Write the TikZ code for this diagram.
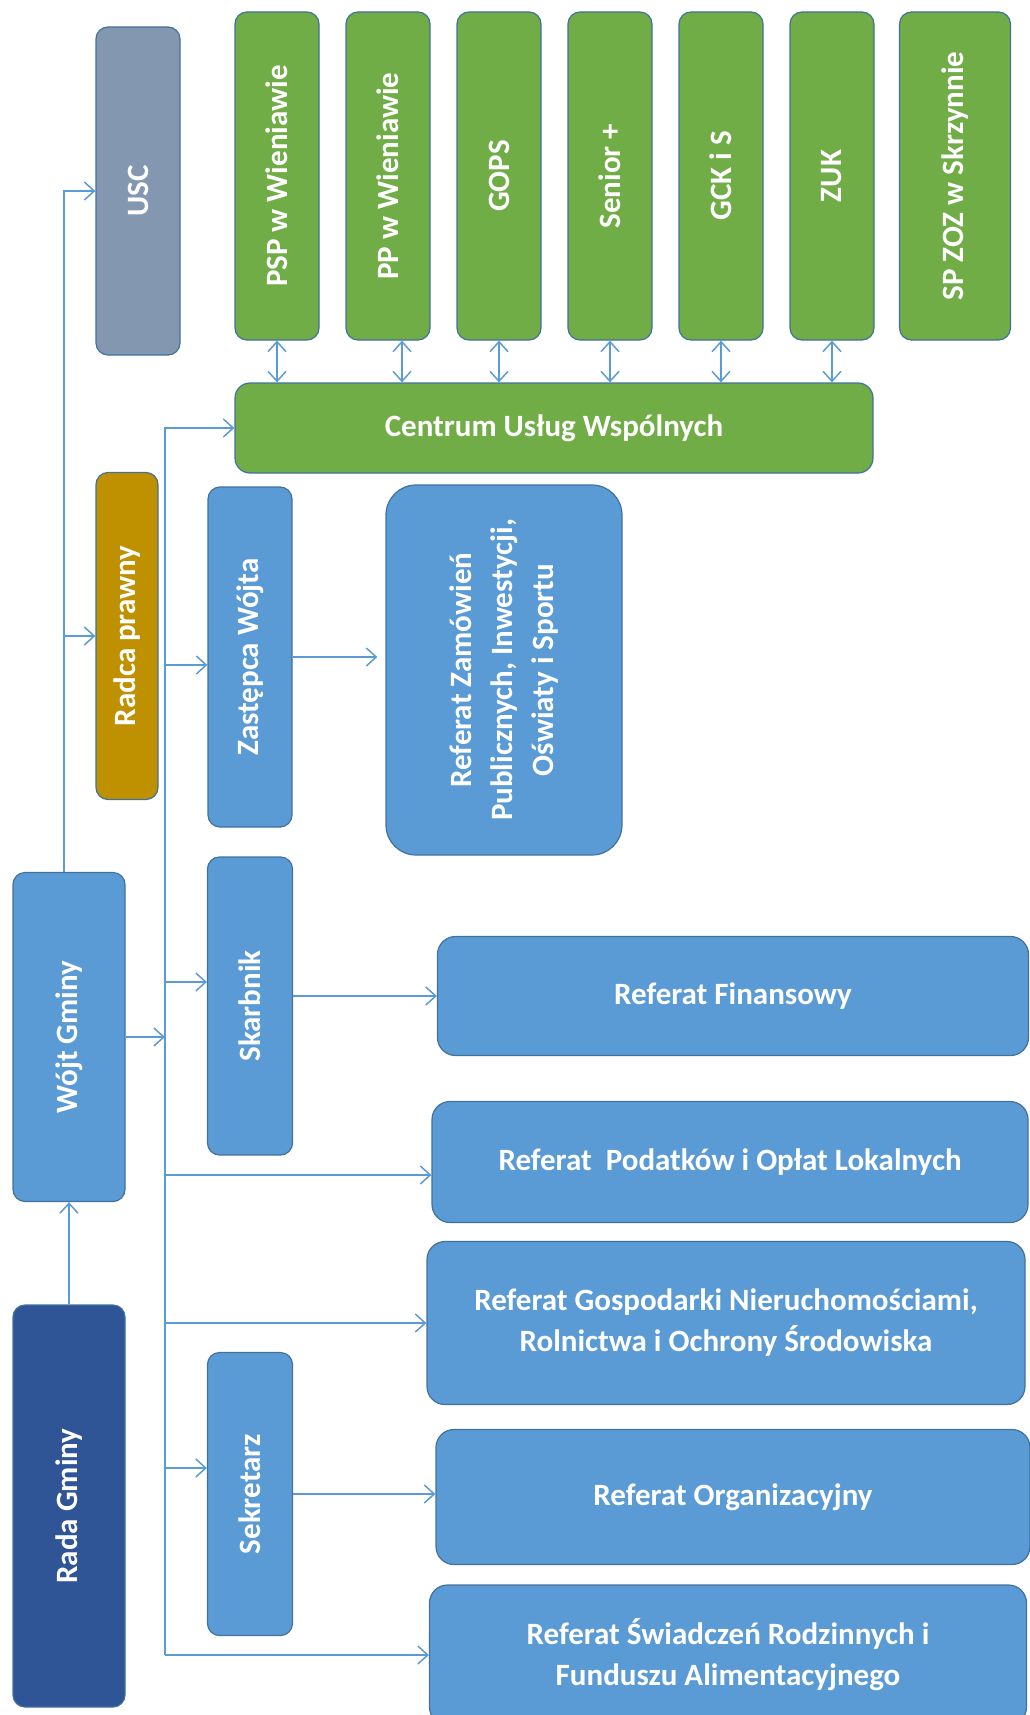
\documentclass[tikz,border=0pt]{standalone}
\usepackage{fontspec}
\usepackage{graphicx}
\usepackage{tikz}
\usetikzlibrary{arrows.meta}
\setmainfont{Carlito}
\definecolor{ogreen}{HTML}{70AD47}
\definecolor{oblue}{HTML}{5B9BD5}
\definecolor{ogrey}{HTML}{8497B0}
\definecolor{ogold}{HTML}{BF9000}
\definecolor{onavy}{HTML}{2F5597}
\definecolor{edge}{HTML}{41719C}
\tikzset{
  orgbox/.style={draw=edge, line width=1.2pt, rounded corners=12pt, inner sep=0pt,
    text=white, font=\bfseries\fontsize{31}{41}\selectfont},
  greenbox/.style={orgbox, fill=ogreen},
  bluebox/.style={orgbox, fill=oblue},
  conn/.style={draw=oblue, line width=1.5pt, -{Straight Barb[length=10pt,width=18pt]}},
  both/.style={conn, {Straight Barb[length=10pt,width=18pt]}-{Straight Barb[length=10pt,width=18pt]}}
}

\begin{document}
\begin{tikzpicture}[x=1pt,y=-1pt]
      \useasboundingbox (0,0) rectangle (1030,1715);
      \clip (0,0) rectangle (1030,1715);
      \node[orgbox, fill=ogrey, minimum width=84, minimum height=328] (usc) at (138,191) {\rotatebox{90}{USC}};
      \node[greenbox, minimum width=84, minimum height=328] (psp) at (277,176) {\rotatebox{90}{PSP w Wieniawie}};
      \node[greenbox, minimum width=84, minimum height=328] (pp) at (388,176) {\rotatebox{90}{PP w Wieniawie}};
      \node[greenbox, minimum width=84, minimum height=328] (gops) at (499,176) {\rotatebox{90}{GOPS}};
      \node[greenbox, minimum width=84, minimum height=328] (senior) at (610,176) {\rotatebox{90}{Senior +}};
      \node[greenbox, minimum width=84, minimum height=328] (gck) at (721,176) {\rotatebox{90}{GCK i S}};
      \node[greenbox, minimum width=84, minimum height=328] (zuk) at (832,176) {\rotatebox{90}{ZUK}};
      \node[greenbox, minimum width=111, minimum height=328] (spzoz) at (955,176) {\rotatebox{90}{SP ZOZ w Skrzynnie}};
      \node[greenbox, rounded corners=15pt, minimum width=638, minimum height=90] (cuw) at (554,428) {Centrum Usług Wspólnych};
      \node[orgbox, fill=ogold, minimum width=62, minimum height=327] (radca) at (127,636) {\rotatebox{90}{Radca prawny}};
      \node[bluebox, minimum width=84, minimum height=340] (zast) at (250,657) {\rotatebox{90}{Zastępca Wójta}};
      \node[bluebox, rounded corners=30pt, minimum width=236, minimum height=370] (zam) at (504,670)
        {\rotatebox{90}{\begin{tabular}{@{}c@{}}Referat Zamówień\\ Publicznych, Inwestycji,\\ Oświaty i Sportu\end{tabular}}};
      \node[bluebox, minimum width=112, minimum height=329] (wojt) at (69,1037) {\rotatebox{90}{Wójt Gminy}};
      \node[bluebox, minimum width=85, minimum height=298] (skarb) at (250,1006) {\rotatebox{90}{Skarbnik}};
      \node[bluebox, rounded corners=18pt, minimum width=591, minimum height=119] (fin) at (733,996) {Referat Finansowy};
      \node[bluebox, rounded corners=18pt, minimum width=596, minimum height=121] (pod) at (730,1162) {Referat\ \ Podatków i Opłat Lokalnych};
      \node[bluebox, rounded corners=18pt, align=center, minimum width=598, minimum height=163] (gosp) at (726,1323)
        {Referat Gospodarki Nieruchomościami,\\ Rolnictwa i Ochrony Środowiska};
      \node[orgbox, fill=onavy, minimum width=112, minimum height=402] (rada) at (69,1506) {\rotatebox{90}{Rada Gminy}};
      \node[bluebox, minimum width=85, minimum height=283] (sek) at (250,1494) {\rotatebox{90}{Sekretarz}};
      \node[bluebox, rounded corners=18pt, minimum width=594, minimum height=135] (org) at (733,1497) {Referat Organizacyjny};
      \node[bluebox, rounded corners=18pt, align=center, minimum width=597, minimum height=140] (swi) at (728,1655)
        {Referat Świadczeń Rodzinnych i\\ Funduszu Alimentacyjnego};
      \coordinate (tr) at (165,0);
      \draw[conn] (rada.north) -- (wojt.south);
      \draw[conn] ([xshift=-5pt]wojt.north) |- (usc.west);
      \draw[conn] ([xshift=-5pt]wojt.north |- radca.west) -- (radca.west);
      \draw[conn] (wojt.east) -- (tr |- wojt.east);
      \draw[conn] (tr |- swi.west) -- (tr |- cuw.west) -- (cuw.west);
      \draw[conn] (tr |- swi.west) -- (swi.west);
      \draw[conn] ([yshift=-8pt]tr |- zast.west) -- ([yshift=-8pt]zast.west);
      \draw[conn] ([yshift=24pt]tr |- skarb.west) -- ([yshift=24pt]skarb.west);
      \draw[conn] ([yshift=-13pt]tr |- pod.west) -- ([yshift=-13pt]pod.west);
      \draw[conn] (tr |- gosp.west) -- (gosp.west);
      \draw[conn] ([yshift=26pt]tr |- sek.west) -- ([yshift=26pt]sek.west);
      \draw[conn] (zast.east) -- ([xshift=-8pt]zast.east -| zam.west);
      \draw[conn] (skarb.east |- fin.west) -- (fin.west);
      \draw[conn] (sek.east) -- (sek.east -| org.west);
      \foreach \n in {psp,gops,senior,gck,zuk}
        \draw[both] (\n.south) -- (\n.south |- cuw.north);
      \draw[both] ([xshift=14pt]pp.south) -- ([xshift=14pt]pp.south |- cuw.north);
    \end{tikzpicture}
\end{document}
